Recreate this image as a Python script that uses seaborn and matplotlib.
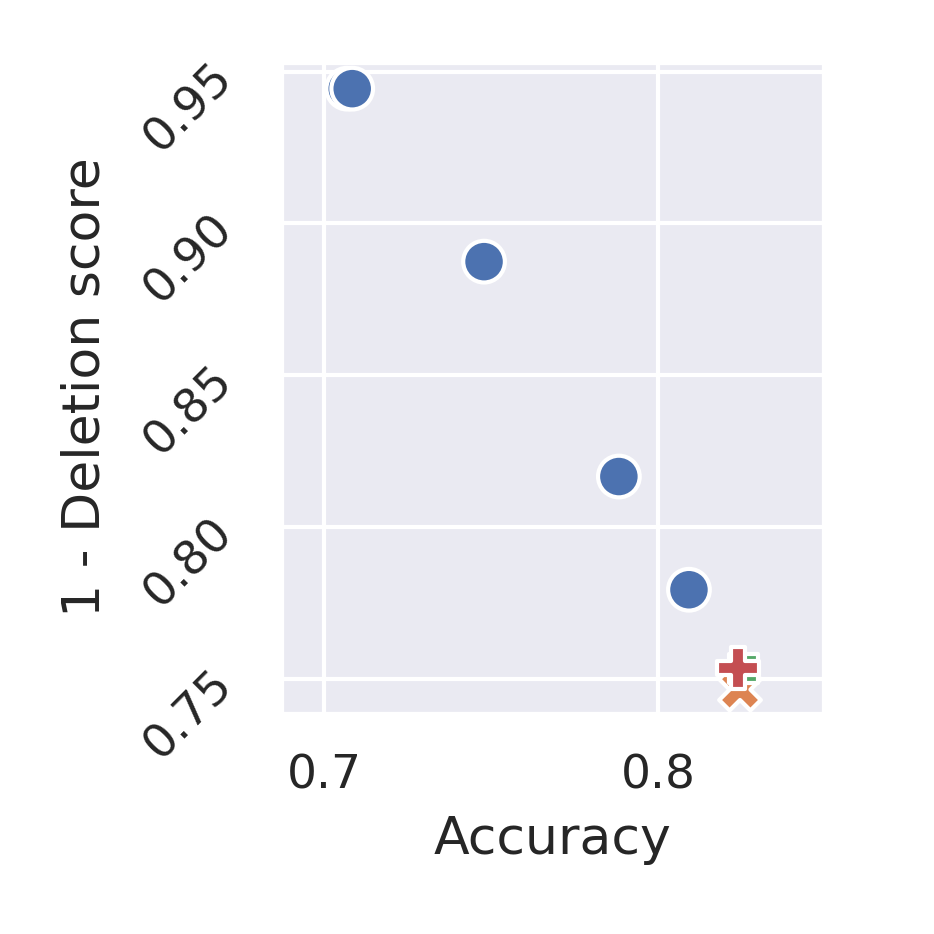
import matplotlib
matplotlib.use("Agg")
import matplotlib.pyplot as plt
import seaborn as sns
import pandas as pd

methods = ["A", "A", "A", "A", "A", "B", "C", "D"]
accuracy = [0.7069, 0.7084, 0.7479, 0.7883, 0.8093, 0.8246, 0.8256, 0.8240]
deletion = [0.9444, 0.9444, 0.8874, 0.8166, 0.7793, 0.7464, 0.7533, 0.7536]

df = pd.DataFrame({"Accuracy": accuracy, "1 - Deletion score": deletion, "method": methods})

sns.set_theme(context="notebook", style="darkgrid")
fig = plt.figure(figsize=(934 / 300, 934 / 300), dpi=300)
ax = fig.add_axes([0.301, 0.236, 0.581, 0.698])
sns.scatterplot(data=df, x="Accuracy", y="1 - Deletion score", hue="method",
                style="method", ax=ax, legend=False, s=100, linewidth=1)
ax.set_xlim(0.6871, 0.8497)
ax.set_ylim(0.7385, 0.9533)
ax.set_xticks([0.7, 0.8])
ax.set_yticks([0.75, 0.80, 0.85, 0.90, 0.95])
ax.tick_params(labelsize=11.3)
ax.set_xlabel("Accuracy", fontsize=12.5)
ax.set_ylabel("1 - Deletion score", fontsize=12.5, labelpad=6)
for lab in ax.get_yticklabels():
    lab.set_rotation(45)
fig.savefig("out.png", dpi=300)
